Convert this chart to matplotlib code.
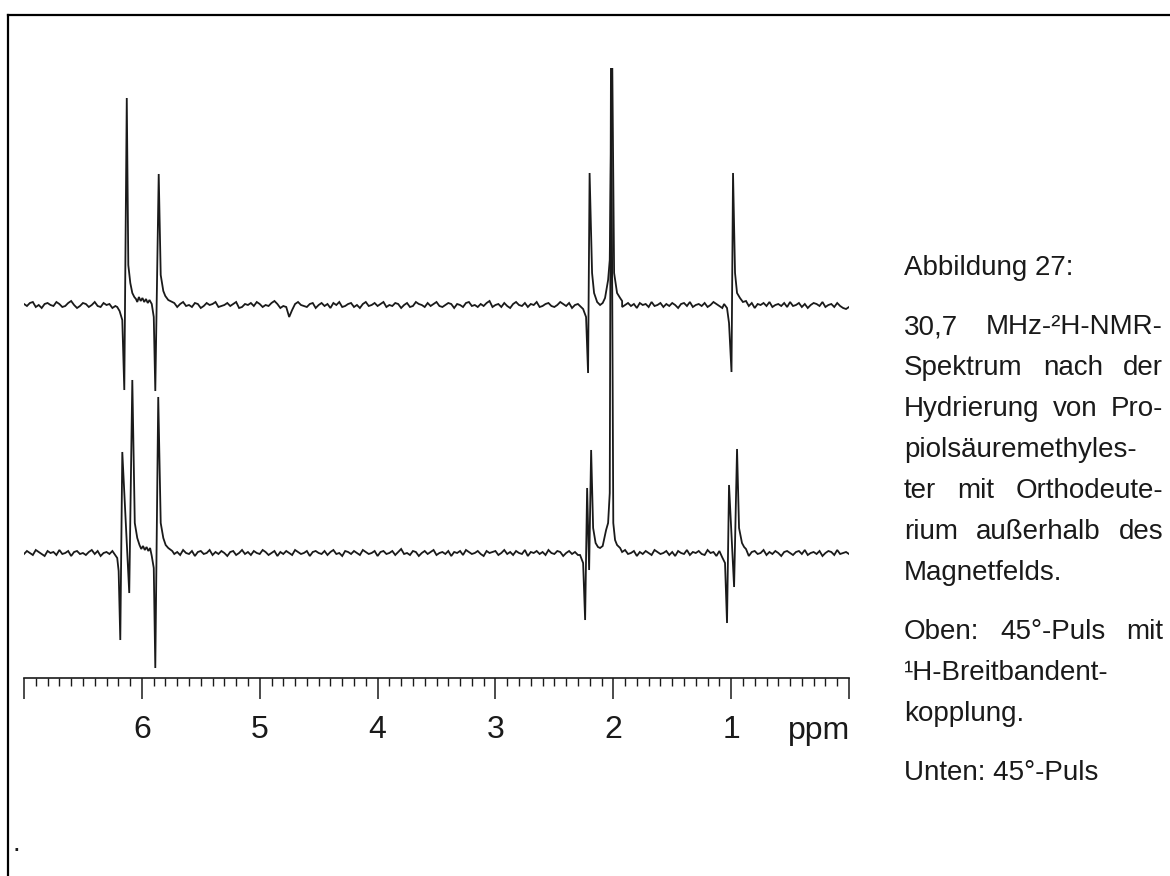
import matplotlib
matplotlib.use("Agg")
import matplotlib.pyplot as plt
import numpy as np
from matplotlib.ticker import MultipleLocator, FuncFormatter
from matplotlib.lines import Line2D

plt.rcParams['font.family'] = ['Liberation Sans', 'DejaVu Sans']

W, H, DPI = 1170, 876, 100
INK = '#1a1a1a'

# ---- chemical-shift axis -------------------------------------------------
ppm_max, ppm_min = 7.0, 0.0
labelled_ppm = [1, 2, 3, 4, 5, 6]
unit_label = "ppm"

# ---- signal vertices (ppm, intensity) ------------------------------------
# upper trace: 45° pulse with 1H broadband decoupling
upper_signals = [
    [(6.209, -2), (6.189, -6), (6.166, -15), (6.149, -85), (6.128, 207),
     (6.115, 40), (6.098, 22), (6.081, 12), (6.064, 8), (6.050, 6), (6.039, 3),
     (6.025, 8), (6.010, 4), (5.995, 7), (5.980, 3), (5.965, 6), (5.950, 2),
     (5.935, 5), (5.916, 1), (5.899, -12), (5.886, -86), (5.857, 131),
     (5.840, 30), (5.818, 14), (5.801, 9), (5.776, 5), (5.742, 3)],
    [(2.282, -1), (2.256, -4), (2.231, -12), (2.214, -68), (2.201, 132),
     (2.180, 32), (2.163, 12), (2.137, 3), (2.112, 0), (2.090, 2), (2.070, 7),
     (2.044, 25), (2.030, 45), (2.010, 260), (1.993, 32), (1.968, 12),
     (1.942, 7), (1.925, 4)],
    [(1.060, 1), (1.035, -3), (1.018, -18), (0.997, -67), (0.984, 132),
     (0.967, 32), (0.950, 12), (0.925, 7), (0.900, 3), (0.874, 4)],
]

# lower trace: 45° pulse without decoupling
lower_signals = [
    [(6.226, -2), (6.209, -5), (6.197, -18), (6.183, -87), (6.166, 101),
     (6.107, -40), (6.081, 173), (6.060, 30), (6.039, 15), (6.020, 8),
     (6.005, 4), (5.990, 7), (5.975, 3), (5.960, 6), (5.945, 2), (5.930, 5),
     (5.916, -3), (5.899, -15), (5.886, -115), (5.861, 156), (5.840, 30),
     (5.818, 15), (5.798, 8), (5.776, 5), (5.742, 2)],
    [(2.282, -2), (2.256, -10), (2.239, -67), (2.222, 65), (2.205, -17),
     (2.188, 103), (2.171, 25), (2.150, 10), (2.130, 6), (2.112, 5),
     (2.090, 7), (2.061, 23), (2.044, 30), (2.030, 60), (2.019, 520),
     (2.000, 30), (1.985, 13), (1.968, 8), (1.942, 5)],
    [(1.077, -4), (1.052, -10), (1.035, -70), (1.018, 68), (0.975, -34),
     (0.950, 104), (0.933, 25), (0.908, 10), (0.890, 6), (0.874, 4)],
]

# baseline noise, sampled every 0.025 ppm from 7.0 down to 0.0
upper_noise = [
    1, -1, 2, 3, -2, 0, -3, 1, 2, 0, -1, 3, 1, -2, -1, 2, 4, 0, -3, -1,
    2, 1, -2, 0, 3, -1, -2, 2, 0, 1, -3, -1, 2, 3, 0, -2, 1, -1, -3, 2,
    3, 0, -1, 1, -2, 2, 4, 1, -1, -3, 0, 2, -2, 1, 3, -1, 0, -2, 2, 1,
    -3, -1, 2, 0, 1, 3, -2, -1, 0, 2, -1, 1, 3, -3, -2, 1, 0, 2, -1, 3,
    1, -2, 0, -1, 2, 4, 1, -3, -1, -2, -12, -5, 1, 3, 0, -1, -2, 1, 2, -3,
    0, 2, -1, 1, -3, 2, 0, 3, -2, -1, 1, 2, -2, 0, -3, 1, 3, -1, 0, 2,
    -1, 1, 3, -2, 0, -1, 2, 1, -3, 0, 2, -2, -1, 3, 1, 0, -2, 2, -1, 1,
    3, -1, -2, 0, 2, 1, -3, 1, 0, -2, 2, 3, -1, 0, -2, 1, -1, 2, 4, -2,
    0, 1, -2, 2, -1, -3, 1, 3, 0, -1, 2, -2, 1, 0, 3, -2, -1, 1, 2, -1,
    -2, 0, 3, 1, -1, 2, -3, 0, 1, 2, -2, 1, -1, 3, 0, -2, 2, 1, -3, 0,
    1, 3, -1, -2, 0, 2, -1, 1, -3, 2, 0, 1, -2, 3, -1, 0, 2, -2, 1, -1,
    2, 0, -3, 1, 2, -1, 3, -2, 0, 1, -1, 2, -2, 0, 3, 1, -1, -3, 2, 0,
    -1, 2, 1, -2, 3, 0, -1, 2, -3, 1, 0, 2, -1, 3, -2, 0, 1, -1, 2, -2,
    3, -1, 0, 2, -2, 1, -3, 0, 2, 1, -1, 3, -2, 0, 1, -2, 2, -1, -3, -4,
    -2,
]
lower_noise = [
    -1, 2, 0, -2, 3, 1, -1, -3, 2, 0, 1, -2, 3, -1, 0, 2, -3, 1, 2, -1,
    0, -2, 1, 3, -1, 2, -3, 0, 1, -1, 2, 4, -2, 0, -1, 1, -3, 2, 0, 3,
    -2, 1, -1, 2, 0, -3, 1, 3, -2, 0, 2, -1, 1, -2, 3, 0, -1, 2, -3, 1,
    2, -1, 0, 3, -2, 1, -1, 2, 0, -3, 1, 2, -2, 0, 3, -1, 1, -2, 2, 0,
    -1, 3, 1, -2, 0, 2, -3, 1, -1, 2, 0, -2, 3, 1, -1, 0, 2, -3, 1, 2,
    0, -1, 2, -2, 1, 3, -1, 0, -3, 2, 1, -1, 2, 0, -2, 3, 1, -1, 0, 2,
    -3, 1, 2, -1, 0, 2, -2, 1, 4, -1, 0, -2, 2, 1, -3, 0, 2, -1, 1, 3,
    -2, 0, 1, -1, 2, -3, 1, 0, 2, -2, 3, 1, -1, 0, 2, -1, -3, 2, 0, 1,
    2, -2, 0, 3, -1, 1, -2, 2, 0, -1, 3, -3, 1, 0, 2, -1, 1, -2, 3, 0,
    -1, 2, 1, -3, 0, 2, -1, 1, -2, 3, 0, -1, 2, -2, 1, 0, 3, -1, -2, 1,
    2, 0, -2, 1, 3, -1, 0, 2, -3, 1, -1, 2, 0, -2, 3, 1, -1, 0, 2, -2,
    1, -3, 2, 0, -1, 3, -2, 1, 0, 2, -1, -2, 3, 0, 1, -3, 2, -1, 0, 2,
    -2, 1, 3, -1, 0, 2, -3, 1, 2, -1, 0, 3, -2, 1, -1, 2, 0, -3, 1, 2,
    0, -2, 1, 2, -1, 3, -2, 0, 1, -1, 2, -3, 0, 2, 1, -2, 3, -1, 0, 1,
    -1,
]
lower_offset = -248

# ---- caption -------------------------------------------------------------
caption = [
    ("Abbildung 27:", 275, False),
    ("30,7 MHz-²H-NMR-", 334, True),
    ("Spektrum nach der", 375, True),
    ("Hydrierung von Pro-", 416, True),
    ("piolsäuremethyles-", 457, False),
    ("ter mit Orthodeute-", 498, True),
    ("rium außerhalb des", 539, True),
    ("Magnetfelds.", 580, False),
    ("Oben: 45°-Puls mit", 639, True),
    ("¹H-Breitbandent-", 680, False),
    ("kopplung.", 721, False),
    ("Unten: 45°-Puls", 780, False),
]


def build_trace(signals, noise):
    grid = np.linspace(ppm_max, ppm_min, len(noise))
    vals = np.asarray(noise, dtype=float)
    keep = np.ones(len(grid), dtype=bool)
    for grp in signals:
        p = [v[0] for v in grp]
        keep &= ~((grid <= max(p)) & (grid >= min(p)))
    xs = list(grid[keep])
    ys = list(vals[keep])
    for grp in signals:
        xs += [v[0] for v in grp]
        ys += [v[1] for v in grp]
    order = np.argsort(xs)[::-1]
    return np.asarray(xs)[order], np.asarray(ys)[order]


fig = plt.figure(figsize=(W / DPI, H / DPI), dpi=DPI)
fig.patch.set_facecolor('white')

ax_left, ax_right = 24, 849
ax_top, ax_bottom = 68, 678
ax = fig.add_axes([ax_left / W, 1 - ax_bottom / H,
                   (ax_right - ax_left) / W, (ax_bottom - ax_top) / H])
ax.set_facecolor('none')

ux, uy = build_trace(upper_signals, upper_noise)
lx, ly = build_trace(lower_signals, lower_noise)
ax.plot(ux, uy, color=INK, lw=1.3, solid_joinstyle='miter')
ax.plot(lx, ly + lower_offset, color=INK, lw=1.3, solid_joinstyle='miter')

ax.set_xlim(ppm_max, ppm_min)
ax.set_ylim(-(ax_bottom - 305), 305 - ax_top)

for side in ('left', 'right', 'top'):
    ax.spines[side].set_visible(False)
ax.spines['bottom'].set_linewidth(1.2)
ax.spines['bottom'].set_color(INK)
ax.set_yticks([])
ax.xaxis.set_major_locator(MultipleLocator(1))
ax.xaxis.set_minor_locator(MultipleLocator(0.1))
ax.xaxis.set_major_formatter(FuncFormatter(
    lambda v, _: str(int(round(v))) if int(round(v)) in labelled_ppm else ""))
ax.tick_params(axis='x', which='major', direction='out', length=15, width=1.1,
               color=INK, labelsize=23, labelcolor=INK, pad=12)
ax.tick_params(axis='x', which='minor', direction='out', length=5.5, width=1.0,
               color=INK)
ax.annotate(unit_label, xy=(ppm_min, 0), xycoords=('data', 'axes fraction'),
            xytext=(1, -27), textcoords='offset points', ha='right', va='top',
            fontsize=23, color=INK)

# page frame
fig.add_artist(Line2D([7.5 / W, 1.0], [1 - 15 / H, 1 - 15 / H],
                      transform=fig.transFigure, color='black', lw=1.6))
fig.add_artist(Line2D([7.5 / W, 7.5 / W], [1 - 15 / H, 0.0],
                      transform=fig.transFigure, color='black', lw=1.6))
fig.text(16 / W, 1 - 851 / H, ".", fontsize=20, color=INK,
         ha='center', va='baseline')

# caption column, block-justified
x0, x1 = 904, 1163
renderer = fig.canvas.get_renderer()
for line, y_px, justify in caption:
    y = 1 - y_px / H
    words = line.split(" ")
    if not justify or len(words) == 1:
        fig.text(x0 / W, y, line, fontsize=20, color=INK, va='baseline')
        continue
    texts = [fig.text(0, y, w, fontsize=20, color=INK, va='baseline')
             for w in words]
    widths = [t.get_window_extent(renderer).width for t in texts]
    gap = (x1 - x0 - sum(widths)) / (len(words) - 1)
    x = x0
    for t, w in zip(texts, widths):
        t.set_x(x / W)
        x += w + gap

fig.savefig("out.png", dpi=DPI, facecolor='white')
